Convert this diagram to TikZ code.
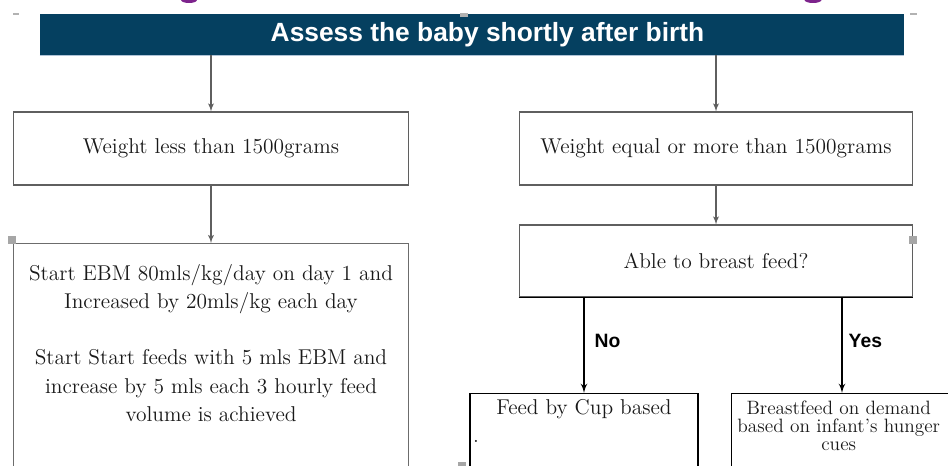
\documentclass[tikz,border=0pt]{standalone}
\usepackage{fontspec}
\newfontfamily\headfont{Liberation Sans}
\usepackage{xcolor}
\usepackage{tikz}
\usetikzlibrary{shapes,arrows}
\definecolor{headblue}{RGB}{5,64,96}
\definecolor{headrule}{RGB}{175,195,215}
\definecolor{rulegray}{RGB}{95,95,95}
\definecolor{textgray}{RGB}{25,25,25}
\definecolor{titlepurple}{RGB}{125,35,140}
\tikzstyle{block} = [rectangle, draw=rulegray, line width=0.6pt, text=textgray, align=center, inner sep=0pt, font=\rmfamily\fontsize{12.2}{16}\selectfont]
\tikzstyle{outcome} = [rectangle, draw=black, line width=0.85pt, text=textgray, inner sep=0pt, font=\rmfamily\fontsize{12.2}{16}\selectfont]
\tikzstyle{line} = [draw=rulegray, line width=0.6pt, -latex']
\tikzstyle{branch} = [draw=black, line width=0.85pt, -latex']
\tikzstyle{answer} = [inner sep=0pt, font=\headfont\bfseries\fontsize{11}{13}\selectfont]
\tikzstyle{handle} = [rectangle, fill=gray!70, minimum size=0.16cm, inner sep=0pt]

\begin{document}
\begin{tikzpicture}[x=0.02cm, y=-0.02cm]
\useasboundingbox (0,0) rectangle (948,466);
\clip (0,0) rectangle (948,466);

% remains of the title above
\fill [titlepurple] (189,0) ellipse (0.16cm and 0.06cm);
\fill [titlepurple] (813,0) ellipse (0.17cm and 0.06cm);

\node [rectangle, fill=headblue, minimum width=17.28cm, minimum height=0.82cm, inner sep=0pt, text=white, font=\headfont\bfseries\fontsize{15}{18}\selectfont] (assess) at (472,34.5) {\hspace{0.62cm}Assess the baby shortly after birth};
\draw [headrule, line width=0.8pt] (assess.south west) -- (assess.south east);

\node [block, minimum width=7.92cm, minimum height=1.46cm] (light) at (211,148.5) {Weight less than 1500grams};
\node [block, minimum width=7.88cm, minimum height=1.46cm] (heavy) at (716,148.5) {Weight equal or more than 1500grams};
\path [line] (light |- assess.south) -- (light.north);
\path [line] (heavy |- assess.south) -- (heavy.north);

\node [block, draw=gray!85!black, inner ysep=0.42cm, anchor=north] (ebm) at (211,243) {\parbox[t][5.5cm][t]{7.92cm}{\centering Start EBM 80mls/kg/day on day 1 and\\ Increased by 20mls/kg each day\\[16pt] Start Start feeds with 5 mls EBM and\\ increase by 5 mls each 3 hourly feed\\ volume is achieved}};
\node [block, minimum width=7.88cm, minimum height=1.44cm] (ask) at (716,261) {Able to breast feed?};
\path [line] (light) -- (ebm);
\path [line] (heavy) -- (ask);
\draw [black, line width=0.85pt] (ask.south west) -- (ask.south east);

\node [outcome, inner ysep=0.12cm, anchor=north] (cup) at (584,393) {\parbox[t][2.5cm][t]{4.56cm}{{\centering Feed by Cup based\par}\hspace*{0.06cm}.}};
\node [outcome, inner ysep=0.14cm, anchor=north west, font=\rmfamily\fontsize{11}{10.2}\selectfont] (demand) at (731,393) {\parbox[t][2.5cm][t]{4.6cm}{\parbox[t]{4.28cm}{\centering Breastfeed on demand\\ based on infant’s hunger\\ cues}}};
\coordinate (yesfoot) at (842,393);
\path [branch] (cup.north |- ask.south) -- (cup.north) node [answer, pos=0.45, right=0.2cm] (no) {No};
\path [branch] (yesfoot |- ask.south) -- (yesfoot) node [answer, pos=0.45, right=0.12cm] (yes) {Yes};

% selection handles
\node [handle] (grip1) at (12,240) {};
\node [handle] (grip2) at (913,240) {};
\node [handle] (grip3) at (462,466) {};
\fill [gray!60] (13,13) rectangle (19,15);
\fill [gray!60] (460,13) rectangle (468,17);
\fill [gray!60] (910,13) rectangle (917,15);
\end{tikzpicture}
\end{document}
